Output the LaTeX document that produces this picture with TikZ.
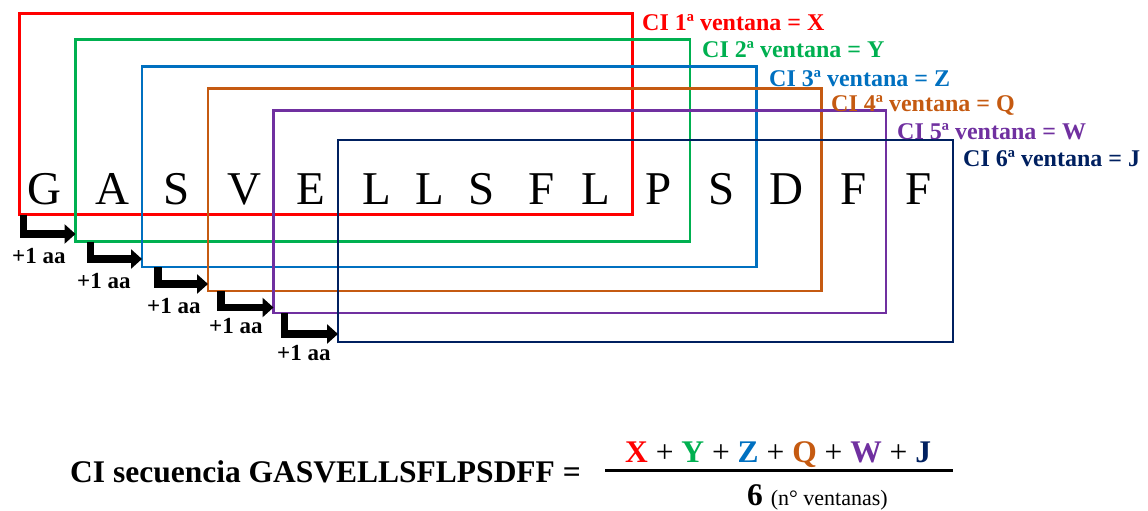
\documentclass[tikz,border=0pt]{standalone}
\usepackage{fontspec}
\setmainfont{Liberation Serif}
\usetikzlibrary{arrows.meta}
\definecolor{cred}{HTML}{FF0000}
\definecolor{cgreen}{HTML}{00B050}
\definecolor{cblue}{HTML}{0070C0}
\definecolor{corange}{HTML}{C55A11}
\definecolor{cpurple}{HTML}{7030A0}
\definecolor{cnavy}{HTML}{002060}
\begin{document}
\begin{tikzpicture}[x=1pt,y=-1pt,
  win/.style={draw=#1, line width=2.8pt, rectangle, inner sep=0pt, outer sep=0pt},
  winlabel/.style={text=#1, font=\fontsize{24}{24}\selectfont\bfseries, inner sep=0pt, anchor=base west},
  seq/.style={font=\fontsize{47}{47}\selectfont, inner sep=0pt, anchor=base},
  shiftarrow/.style={draw=black, line width=7.5pt, -{Triangle[length=11pt,width=19pt]}},
  shiftlabel/.style={font=\fontsize{23}{23}\selectfont\bfseries, inner sep=0pt, anchor=base west},
  formula/.style={font=\fontsize{31.5}{31.5}\selectfont\bfseries, inner sep=0pt, anchor=base west}]
\useasboundingbox (0,0) rectangle (1148,511);
% windows
\node[win=cred,    minimum width=613pt,   minimum height=201pt]   (w1) at (326,114) {};
\node[win=cgreen,  minimum width=614.5pt, minimum height=202pt]   (w2) at (382.75,140.5) {};
\node[win=cblue,   minimum width=614.5pt, minimum height=200.5pt] (w3) at (449.25,166.75) {};
\node[win=corange, minimum width=613.5pt, minimum height=202.5pt] (w4) at (514.75,189.75) {};
\node[win=cpurple, minimum width=612.5pt, minimum height=202.5pt] (w5) at (579.75,211.75) {};
\node[win=cnavy,   minimum width=615pt,   minimum height=202pt]   (w6) at (645.5,241) {};
% window labels
\node[winlabel=cred]    (l1) at (642,31)  {CI 1ª ventana = X};
\node[winlabel=cgreen]  (l2) at (702,57)  {CI 2ª ventana = Y};
\node[winlabel=cblue]   (l3) at (769,86)  {CI 3ª ventana = Z};
\node[winlabel=corange] (l4) at (831,111) {CI 4ª ventana = Q};
\node[winlabel=cpurple] (l5) at (897,139) {CI 5ª ventana = W};
\node[winlabel=cnavy]   (l6) at (963,166) {CI 6ª ventana = J};
% sequence
\node[seq] (s1)  at (44,204)    {G};
\node[seq] (s2)  at (112.5,204) {A};
\node[seq] (s3)  at (176.5,204) {S};
\node[seq] (s4)  at (244,204)   {V};
\node[seq] (s5)  at (311,204)   {E};
\node[seq] (s6)  at (376.5,204) {L};
\node[seq] (s7)  at (429.5,204) {L};
\node[seq] (s8)  at (481.5,204) {S};
\node[seq] (s9)  at (542,204)   {F};
\node[seq] (s10) at (595.5,204) {L};
\node[seq] (s11) at (658.5,204) {P};
\node[seq] (s12) at (721.5,204) {S};
\node[seq] (s13) at (786,204)   {D};
\node[seq] (s14) at (854,204)   {F};
\node[seq] (s15) at (918.5,204) {F};
% shift arrows
\draw[shiftarrow] ([xshift=4pt]w1.south west)  |- ([yshift=7.5pt]w2.south west);
\draw[shiftarrow] ([xshift=15pt]w2.south west) |- ([yshift=8pt]w3.south west);
\draw[shiftarrow] ([xshift=16pt]w3.south west) |- ([yshift=7pt]w4.south west);
\draw[shiftarrow] ([xshift=13pt]w4.south west) |- ([yshift=5.5pt]w5.south west);
\draw[shiftarrow] ([xshift=11pt]w5.south west) |- ([yshift=8pt]w6.south west);
\node[shiftlabel] (a1) at (12,263)  {+1 aa};
\node[shiftlabel] (a2) at (77,288)  {+1 aa};
\node[shiftlabel] (a3) at (147,313) {+1 aa};
\node[shiftlabel] (a4) at (209,333) {+1 aa};
\node[shiftlabel] (a5) at (277,360) {+1 aa};
% formula
\node[formula] (lhs) at (70,482) {CI secuencia GASVELLSFLPSDFF =};
\node[formula] (num) at (625,462) {\textcolor{cred}{X} \mdseries+ \bfseries\textcolor{cgreen}{Y} \mdseries+ \bfseries\textcolor{cblue}{Z} \mdseries+ \bfseries\textcolor{corange}{Q} \mdseries+ \bfseries\textcolor{cpurple}{W} \mdseries+ \bfseries\textcolor{cnavy}{J}};
\draw[line width=3pt] (605,470.5) -- (953,470.5);
\node[formula] (den) at (747,505) {6 \mdseries\fontsize{22}{22}\selectfont(n° ventanas)};
\end{tikzpicture}
\end{document}
